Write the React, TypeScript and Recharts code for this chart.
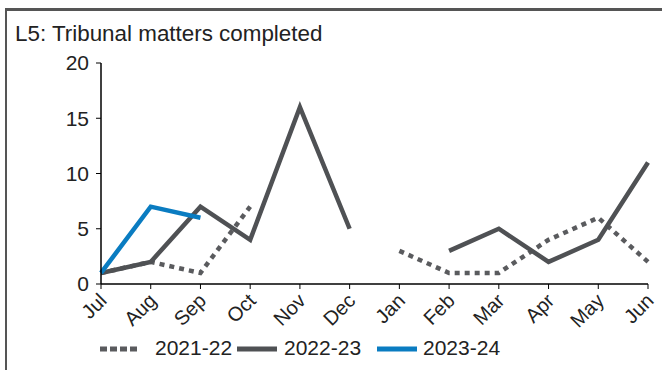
import { LineChart, Line, XAxis, YAxis } from 'recharts';

const months = ['Jul', 'Aug', 'Sep', 'Oct', 'Nov', 'Dec', 'Jan', 'Feb', 'Mar', 'Apr', 'May', 'Jun'];
const fy2122 = [1, 2, 1, 7, null, null, 3, 1, 1, 4, 6, 2];
const fy2223 = [1, 2, 7, 4, 16, 5, null, 3, 5, 2, 4, 11];
const fy2324 = [1, 7, 6, null, null, null, null, null, null, null, null, null];
const yTicks = [0, 5, 10, 15, 20];

const series = [
  { key: 'fy2122', label: '2021-22', color: '#5a5b5e', dash: '5 5' },
  { key: 'fy2223', label: '2022-23', color: '#4f5154', dash: undefined },
  { key: 'fy2324', label: '2023-24', color: '#0a7cc1', dash: undefined },
];

const data = months.map((m, i) => ({
  month: m,
  fy2122: fy2122[i],
  fy2223: fy2223[i],
  fy2324: fy2324[i],
}));

const FONT = 'Arial, "Liberation Sans", sans-serif';

// legend swatch / label left edges
const legendPos = [
  { sw: 100, tx: 155 },
  { sw: 237, tx: 284 },
  { sw: 377, tx: 423 },
];

const MonthTick = (props: any) => {
  const { x, y, payload } = props;
  return (
    <g transform={`translate(${x},${y})`}>
      <text
        x={2}
        y={6}
        textAnchor="end"
        transform="rotate(-45, 2, 6)"
        fontSize={20}
        fontFamily={FONT}
        fill="#222"
        dy="0.35em"
      >
        {payload.value}
      </text>
    </g>
  );
};

export default function App() {
  return (
    <div style={{ position: 'absolute', left: 0, top: 0, width: 662, height: 370, background: '#fff', overflow: 'hidden' }}>
      <div
        style={{
          position: 'absolute', left: 5, top: 8, width: 680, height: 400,
          borderTop: '3px solid #555', borderLeft: '2px solid #555',
        }}
      />
      <div style={{ position: 'absolute', left: 15, top: 21, fontFamily: FONT, fontSize: 22.4, color: '#222', whiteSpace: 'nowrap' }}>
        L5: Tribunal matters completed
      </div>
      <div style={{ position: 'absolute', left: 0, top: 0 }}>
        <LineChart width={662} height={370} data={data} margin={{ top: 63, right: 14, bottom: 36, left: 0 }}>
          <XAxis
            dataKey="month"
            interval={0}
            height={50}
            tick={<MonthTick />}
            tickSize={5}
            axisLine={{ stroke: '#000', strokeWidth: 1.5 }}
            tickLine={{ stroke: '#000' }}
            padding={{ left: 0, right: 0 }}
          />
          <YAxis
            domain={[0, 20]}
            ticks={yTicks}
            width={101}
            tickSize={5}
            tickMargin={7}
            axisLine={{ stroke: '#000', strokeWidth: 1.5 }}
            tickLine={{ stroke: '#000' }}
            tick={{ fontSize: 21, fontFamily: FONT, fill: '#222' }}
          />
          {series.map((s) => (
            <Line
              key={s.key}
              dataKey={s.key}
              name={s.label}
              type="linear"
              stroke={s.color}
              strokeWidth={4.5}
              strokeDasharray={s.dash}
              dot={false}
              activeDot={false}
              isAnimationActive={false}
              connectNulls={false}
            />
          ))}
        </LineChart>
      </div>
      {series.map((s, i) => (
        <div key={s.key}>
          <svg style={{ position: 'absolute', left: legendPos[i].sw, top: 344 }} width={42} height={10}>
            <line
              x1={0} y1={5} x2={40} y2={5}
              stroke={s.color} strokeWidth={5}
              strokeDasharray={s.dash ? '7 3' : undefined}
            />
          </svg>
          <div
            style={{
              position: 'absolute', left: legendPos[i].tx, top: 336,
              fontFamily: FONT, fontSize: 21, color: '#222', whiteSpace: 'nowrap',
            }}
          >
            {s.label}
          </div>
        </div>
      ))}
    </div>
  );
}
